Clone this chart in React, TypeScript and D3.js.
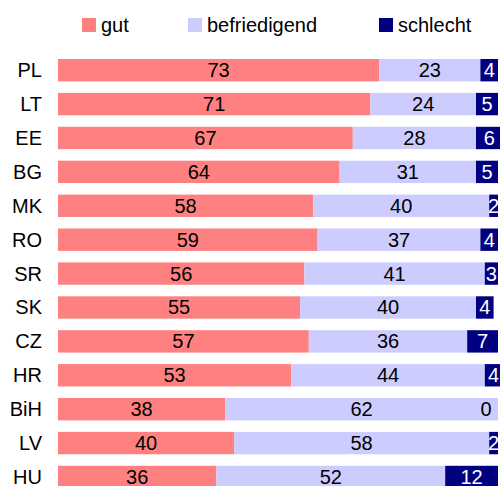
import React from "react";
import * as d3 from "d3";

const countries = ["PL", "LT", "EE", "BG", "MK", "RO", "SR", "SK", "CZ", "HR", "BiH", "LV", "HU"];
const gut = [73, 71, 67, 64, 58, 59, 56, 55, 57, 53, 38, 40, 36];
const befriedigend = [23, 24, 28, 31, 40, 37, 41, 40, 36, 44, 62, 58, 52];
const schlecht = [4, 5, 6, 5, 2, 4, 3, 4, 7, 4, 0, 2, 12];
const seriesNames = ["gut", "befriedigend", "schlecht"];
const colors = ["#ff8080", "#ccccff", "#000080"];
const textColors = ["#000000", "#000000", "#ffffff"];

const W = 500;
const H = 486;
const FONT = "'Liberation Sans', Arial, sans-serif";

export default function App() {
  const x0 = 58;
  const x1 = 498;
  const x = d3.scaleLinear().domain([0, 100]).range([x0, x1]);
  const y = d3
    .scaleBand<string>()
    .domain(countries)
    .range([59, 59 + 33.9 * 12.66])
    .paddingInner(0.34)
    .paddingOuter(0);

  const rows = countries.map((c, i) => ({ c, vals: [gut[i], befriedigend[i], schlecht[i]] }));
  const legendX = [82, 188, 379];

  return (
    <svg
      width={W}
      height={H}
      style={{ position: "absolute", left: 0, top: 0, display: "block" }}
      fontFamily={FONT}
    >
      <rect width={W} height={H} fill="#ffffff" />
      {seriesNames.map((s, k) => (
        <g key={s}>
          <rect x={legendX[k]} y={18} width={14} height={14} fill={colors[k]} />
          <text x={legendX[k] + 19} y={32} fontSize={20} fill="#000">
            {s}
          </text>
        </g>
      ))}
      {rows.map((r) => {
        const top = y(r.c)!;
        const bw = y.bandwidth();
        let acc = 0;
        return (
          <g key={r.c}>
            <text
              x={42}
              y={top + bw / 2}
              dy="0.35em"
              textAnchor="end"
              fontSize={20}
              fill="#000"
            >
              {r.c}
            </text>
            {r.vals.map((v, k) => {
              const start = acc;
              acc += v;
              const xs = x(start);
              const xe = x(start + v);
              let cx = (xs + xe) / 2;
              if (v === 0) cx = x1 - 12;
              return (
                <g key={k}>
                  {v > 0 && (
                    <rect x={xs} y={top} width={xe - xs} height={bw} fill={colors[k]} />
                  )}
                  <text
                    x={cx}
                    y={top + bw / 2}
                    dy="0.35em"
                    textAnchor="middle"
                    fontSize={20}
                    fill={v === 0 ? "#000" : textColors[k]}
                  >
                    {v}
                  </text>
                </g>
              );
            })}
          </g>
        );
      })}
    </svg>
  );
}
